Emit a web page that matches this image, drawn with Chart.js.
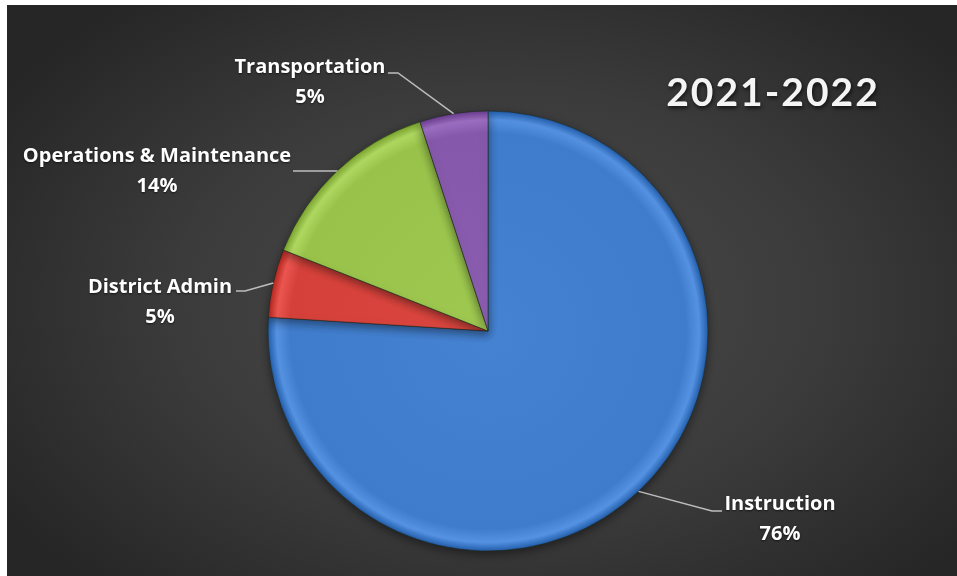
<!DOCTYPE html>
<html>
<head>
<meta charset="utf-8">
<script src="https://cdn.jsdelivr.net/npm/chart.js@4/dist/chart.umd.min.js"></script>
<style>
html, body { margin: 0; padding: 0; background: #fff; }
#wrap {
  position: absolute; left: 7px; top: 5px; width: 950px; height: 571px;
  background: radial-gradient(ellipse 62% 68% at 52% 52%, #4c4c4c 0%, #3b3b3b 55%, #262626 100%);
}
</style>
</head>
<body>
<div id="wrap"><canvas id="budgetPie" width="950" height="571"></canvas></div>
<script>
const categories = ['Instruction', 'District Admin', 'Operations & Maintenance', 'Transportation'];
const shares = [76, 5, 14, 5];
const chartTitle = '2021-2022';
const sliceColors = ['#3f7ccb', '#d5413a', '#98c24a', '#8658ab'];

// where each data label sits (canvas px): text centre, baselines, leader elbow/end
const labelSpots = [
  { x: 773, base: 505, elbow: [705, 506], end: [715, 506] },
  { x: 153, base: 288, elbow: [238, 286], end: [229, 286] },
  { x: 150, base: 157, elbow: [329, 166], end: [286, 166] },
  { x: 303, base: 68,  elbow: [391, 68],  end: [381, 68] }
];

function shade(hex, amt) {
  const n = parseInt(hex.slice(1), 16);
  const f = c => Math.max(0, Math.min(255, Math.round(c + amt)));
  return 'rgb(' + f(n >> 16) + ',' + f((n >> 8) & 255) + ',' + f(n & 255) + ')';
}

function sliceFill(ctx) {
  const base = sliceColors[ctx.dataIndex];
  const area = ctx.chart.chartArea;
  if (!area) return base;
  const cx = (area.left + area.right) / 2, cy = (area.top + area.bottom) / 2;
  const g = ctx.chart.ctx.createRadialGradient(cx, cy, 0, cx, cy, 220);
  g.addColorStop(0, shade(base, 6));
  g.addColorStop(0.9, base);
  g.addColorStop(0.96, shade(base, 22));
  g.addColorStop(1, shade(base, -28));
  return g;
}

const pieShadow = {
  id: 'pieShadow',
  beforeDatasetsDraw(chart) {
    const c = chart.ctx;
    c.save();
    c.shadowColor = 'rgba(0,0,0,0.45)';
    c.shadowBlur = 10;
    c.shadowOffsetY = 3;
  },
  afterDatasetsDraw(chart) { chart.ctx.restore(); }
};

const pieLabels = {
  id: 'pieLabels',
  afterDraw(chart) {
    const c = chart.ctx;
    const arcs = chart.getDatasetMeta(0).data;
    c.save();
    arcs.forEach((arc, i) => {
      const p = arc.getProps(['x', 'y', 'startAngle', 'endAngle', 'outerRadius'], true);
      const mid = (p.startAngle + p.endAngle) / 2;
      const sx = p.x + Math.cos(mid) * p.outerRadius;
      const sy = p.y + Math.sin(mid) * p.outerRadius;
      const s = labelSpots[i];
      c.strokeStyle = '#bdbdbd';
      c.lineWidth = 1.5;
      c.beginPath();
      c.moveTo(sx, sy);
      c.lineTo(s.elbow[0], s.elbow[1]);
      c.lineTo(s.end[0], s.end[1]);
      c.stroke();

      c.fillStyle = '#ffffff';
      c.shadowColor = 'rgba(0,0,0,0.6)';
      c.shadowBlur = 2;
      c.shadowOffsetY = 1;
      c.font = 'bold 20px "Open Sans", Lato, sans-serif';
      c.textAlign = 'center';
      c.textBaseline = 'alphabetic';
      c.fillText(categories[i], s.x, s.base);
      c.fillText(shares[i] + '%', s.x, s.base + 30);
      c.shadowBlur = 0;
      c.shadowOffsetY = 0;
    });

    c.font = 'bold 39px Lato, "Open Sans", sans-serif';
    c.letterSpacing = '2px';
    c.textAlign = 'center';
    c.fillStyle = '#f4f4f4';
    c.shadowColor = 'rgba(0,0,0,0.7)';
    c.shadowBlur = 4;
    c.shadowOffsetX = 1;
    c.shadowOffsetY = 2;
    c.fillText(chartTitle, 766, 101);
    c.restore();
  }
};

new Chart(document.getElementById('budgetPie'), {
  type: 'pie',
  data: {
    labels: categories,
    datasets: [{
      data: shares,
      backgroundColor: sliceFill,
      borderColor: 'rgba(30,40,30,0.55)',
      borderWidth: 1,
      hoverOffset: 0
    }]
  },
  options: {
    responsive: false,
    animation: false,
    radius: 220,
    layout: { padding: { top: 106, bottom: 25, left: 261, right: 249 } },
    plugins: {
      legend: { display: false },
      tooltip: { enabled: false }
    }
  },
  plugins: [pieShadow, pieLabels]
});
</script>
</body>
</html>
